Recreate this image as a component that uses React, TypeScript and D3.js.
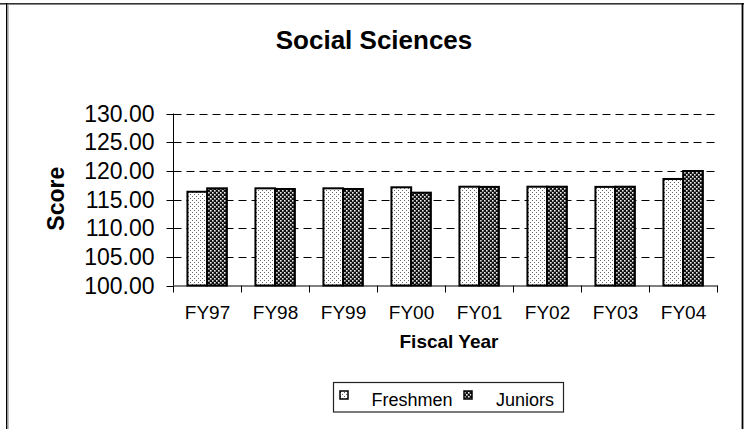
import React from "react";
import * as d3 from "d3";

const categories = ["FY97", "FY98", "FY99", "FY00", "FY01", "FY02", "FY03", "FY04"];
const freshmen = [116.35, 116.95, 116.95, 117.13, 117.23, 117.23, 117.2, 118.58];
const juniors = [116.95, 116.83, 116.83, 116.19, 117.2, 117.23, 117.23, 119.97];
const seriesNames = ["Freshmen", "Juniors"];
const yTicks = [100, 105, 110, 115, 120, 125, 130];

const FONT = "'Liberation Sans', Arial, Helvetica, sans-serif";

export default function App() {
  const W = 751, H = 429;
  const plotLeft = 173.5, plotRight = 717.5, plotTop = 113.5, plotBottom = 285.5;
  const x = d3.scaleBand<string>().domain(categories).range([plotLeft, plotRight]).paddingInner(0).paddingOuter(0);
  const y = d3.scaleLinear().domain([100, 130]).range([plotBottom, plotTop]);
  const inner = d3.scaleBand<string>().domain(seriesNames).range([0, x.bandwidth() * 0.58]).padding(0);
  const groupOffset = x.bandwidth() * 0.205;
  const series = [freshmen, juniors];
  const fills = ["url(#patF)", "url(#patJ)"];

  return (
    <svg width={W} height={H} style={{ position: "absolute", left: 0, top: 0, background: "#fff" }} fontFamily={FONT}>
      <defs>
        <pattern id="patF" width="4" height="4" patternUnits="userSpaceOnUse">
          <rect width="4" height="4" fill="#fff" />
          <rect x="0" y="0" width="1" height="1" fill="#666" />
          <rect x="2" y="2" width="1" height="1" fill="#666" />
        </pattern>
        <pattern id="patJ" width="4" height="4" patternUnits="userSpaceOnUse">
          <rect width="4" height="4" fill="#111" />
          <rect x="0" y="0" width="1.6" height="1.6" fill="#eee" />
          <rect x="2" y="2" width="1.6" height="1.6" fill="#eee" />
        </pattern>
      </defs>
      <rect width={W} height={H} fill="#fff" />
      {/* border */}
      <rect x={0} y={3} width={744} height={1.6} fill="#333" />
      <rect x={6} y={3} width={1.4} height={H} fill="#000" />
      <rect x={7.4} y={4} width={1.2} height={H} fill="#999" />
      <rect x={741.6} y={3} width={1.8} height={H} fill="#000" />

      {/* title */}
      <text x={374} y={48.5} textAnchor="middle" fontSize={26} fontWeight="bold" fill="#000">Social Sciences</text>

      {/* gridlines */}
      {yTicks.filter(t => t !== 100).map(t => (
        <line key={t} x1={plotLeft} x2={plotRight} y1={Math.round(y(t)) + 0.5} y2={Math.round(y(t)) + 0.5}
          stroke="#000" strokeWidth={1} strokeDasharray="8,5" />
      ))}

      {/* bars */}
      {categories.map((c, i) => (
        <g key={c}>
          {series.map((s, k) => {
            const bx = (x(c) as number) + groupOffset + (inner(seriesNames[k]) as number);
            const by = y(s[i]);
            return (
              <rect key={k} x={bx} y={by} width={inner.bandwidth()} height={plotBottom - by}
                fill={fills[k]} stroke="#000" strokeWidth={2} />
            );
          })}
        </g>
      ))}

      {/* y axis */}
      <line x1={plotLeft} x2={plotLeft} y1={plotTop} y2={plotBottom} stroke="#000" strokeWidth={1} />
      {yTicks.map(t => (
        <g key={t}>
          <line x1={plotLeft - 7} x2={plotLeft} y1={Math.round(y(t)) + 0.5} y2={Math.round(y(t)) + 0.5} stroke="#000" />
          <text x={154.5} y={y(t) + 8} textAnchor="end" fontSize={23} fill="#000">{t.toFixed(2)}</text>
        </g>
      ))}
      <text transform={`translate(63.5,198.7) rotate(-90)`} textAnchor="middle" fontSize={23} fontWeight="bold" fill="#000">Score</text>

      {/* x axis */}
      <line x1={plotLeft} x2={plotRight} y1={plotBottom + 0.5} y2={plotBottom + 0.5} stroke="#000" strokeWidth={1} />
      {[...categories.map(c => x(c) as number), plotRight].map((tx, i) => (
        <line key={i} x1={tx} x2={tx} y1={plotBottom} y2={plotBottom + 7} stroke="#000" />
      ))}
      {categories.map(c => (
        <text key={c} x={(x(c) as number) + x.bandwidth() / 2} y={319} textAnchor="middle" fontSize={19} fill="#000">{c}</text>
      ))}
      <text x={449} y={348} textAnchor="middle" fontSize={19} fontWeight="bold" fill="#000">Fiscal Year</text>

      {/* legend */}
      <rect x={333.5} y={382.5} width={230} height={29.5} fill="#fff" stroke="#222" strokeWidth={1.2} />
      <rect x={340} y={391} width={8} height={8} fill="url(#patF)" stroke="#000" strokeWidth={1.5} />
      <text x={371.5} y={406} fontSize={18} fill="#000">{seriesNames[0]}</text>
      <rect x={464} y={391} width={8} height={8} fill="url(#patJ)" stroke="#000" strokeWidth={1.5} />
      <text x={496} y={406} fontSize={18} fill="#000">{seriesNames[1]}</text>
    </svg>
  );
}
